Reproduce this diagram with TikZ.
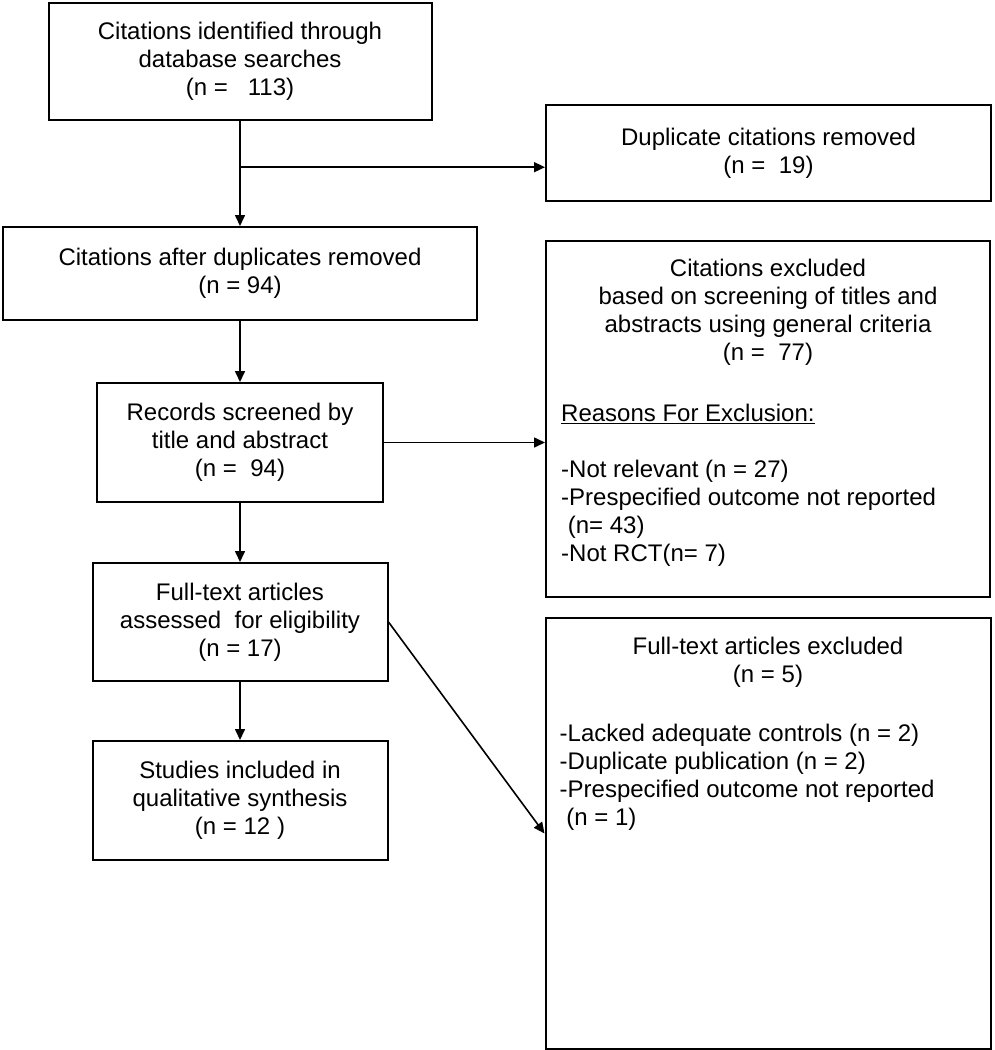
\documentclass[tikz,border=0pt]{standalone}
\usepackage{fontspec}
\setmainfont{Liberation Sans}
\usepackage{tikz}
\usetikzlibrary{arrows.meta,positioning,calc}
\tikzstyle{post}=[-{Triangle[length=11pt,width=10pt]},line width=1.6pt]
\tikzstyle{box}=[draw,rectangle,line width=2pt,align=center,inner sep=0pt,font=\fontsize{24}{28}\selectfont]
\tikzstyle{txt}=[inner sep=0pt,font=\fontsize{24}{28}\selectfont]

\begin{document}
\begin{tikzpicture}[x=1pt,y=1pt,node distance=60pt]
    \useasboundingbox (0,0) rectangle (994,-1050);
    % main column
    \node (A) [box, minimum width=383pt, minimum height=117pt] at (240,-61.5) {Citations identified through\\database searches\\(n =~~~113)};
    \node (B) [box, minimum width=474pt, minimum height=93pt, below=105pt of A] {Citations after duplicates removed\\(n = 94)};
    \node (C) [box, minimum width=286pt, minimum height=119pt, below=61pt of B] {Records screened by\\title and abstract\\(n =~~94)};
    \node (D) [box, minimum width=295pt, minimum height=118pt, below=59pt of C] {Full-text articles\\assessed~ for eligibility\\(n = 17)};
    \node (E) [box, minimum width=295pt, minimum height=119pt, below=58pt of D] {Studies included in\\qualitative synthesis\\(n = 12 )};

    % exclusions
    \node (dup) [box, minimum width=445pt, minimum height=96pt] at (768.5,-153) {Duplicate citations removed\\(n =~~19)};
    \node (ex1) [box, minimum width=444pt, minimum height=356pt] at (768,-419) {};
    \node (ex2) [box, minimum width=445pt, minimum height=431pt, below=19pt of ex1] {};
    \node (ex1head) [txt, align=center, below=19pt of ex1.north] {Citations excluded\\based on screening of titles and\\abstracts using general criteria\\(n =~~77)};
    \node (ex1list) [txt, align=left, below right=164pt and 16pt of ex1.north west] {\underline{Reasons For Exclusion:}\\[28pt]-Not relevant (n = 27)\\-Prespecified outcome not reported\\~(n= 43)\\-Not RCT(n= 7)};
    \node (ex2head) [txt, align=center, below=20pt of ex2.north] {Full-text articles excluded\\(n = 5)};
    \node (ex2list) [txt, align=left, below right=107pt and 15pt of ex2.north west] {-Lacked adequate controls (n = 2)\\-Duplicate publication (n = 2)\\-Prespecified outcome not reported\\~(n = 1)};

    \coordinate (split) at ($(A.south)!0.44!(B.north)$);
    \draw[post] (A) -- (B);
    \draw[post] (split) -- (split -| dup.west);
    \draw[post] (B) -- (C);
    \draw[post] (C.east) -- (C.east -| ex1.west);
    \draw[post] (C) -- (D);
    \draw[post] (D) -- (E);
    \draw[post] (D.east) -- (ex2.west);
\end{tikzpicture}
\end{document}
